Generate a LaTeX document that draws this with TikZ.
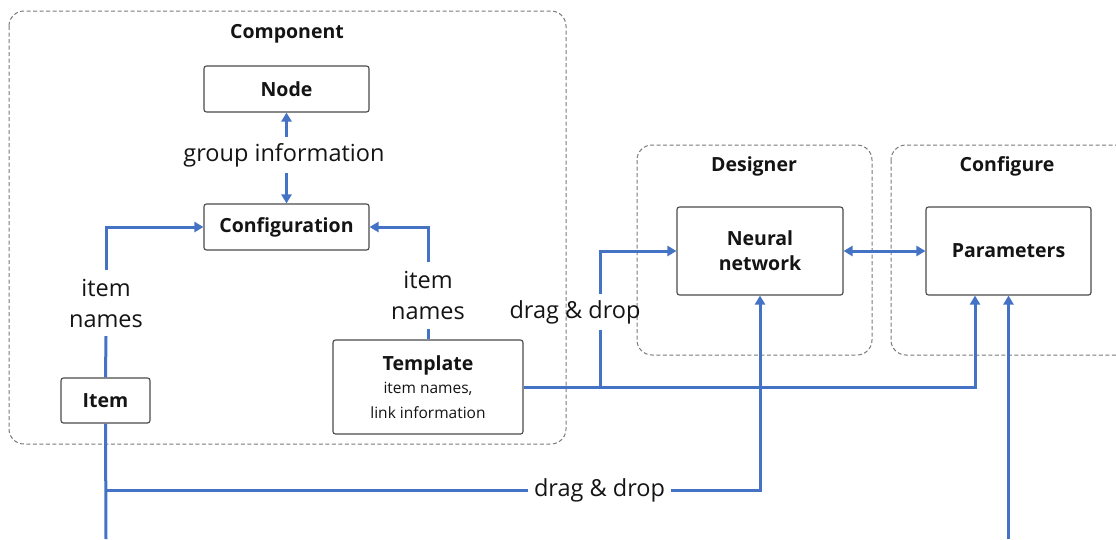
\documentclass[tikz,border=0pt]{standalone}
\usepackage{fontspec}
\setmainfont{Open Sans}
\usetikzlibrary{arrows.meta}
\definecolor{flowblue}{HTML}{4472C4}
\definecolor{boxgray}{HTML}{4A4A4A}
\definecolor{dashgray}{HTML}{7A7A7A}
\definecolor{ink}{HTML}{141414}
\newcommand{\subtxt}{\mdseries\fontsize{15.5}{22}\selectfont}
\begin{document}
\begin{tikzpicture}[x=1pt,y=-1pt,
  box/.style={draw=boxgray, line width=1.1pt, rounded corners=2.5pt, fill=white,
    inner sep=0pt, text=ink, align=center, font=\bfseries\fontsize{19.5}{25}\selectfont},
  group/.style={draw=dashgray, line width=1pt, dash pattern=on 4pt off 2.5pt, rounded corners=15pt},
  grouptitle/.style={text=ink, font=\bfseries\fontsize{19.5}{24}\selectfont},
  lbl/.style={text=ink, inner sep=0pt, align=center, font=\fontsize{23.5}{31}\selectfont},
  flow/.style={draw=flowblue, line width=3pt},
  arr/.style={flow, -{Triangle[length=9pt,width=10pt]}},
  biarr/.style={flow, {Triangle[length=9pt,width=10pt]}-{Triangle[length=9pt,width=10pt]}}]

\clip (0,0) rectangle (1116,539);

% ---------- group frames ----------
\draw[group] (9,11) rectangle (566,444);
\node[grouptitle] (comptitle) at (287,34) {Component};
\draw[group] (637,145) rectangle (872,355);
\node[grouptitle] (destitle) at (754,166) {Designer};
\draw[group] (891,145) rectangle (1160,355);
\node[grouptitle] (conftitle) at (1007,166) {Configure};

% ---------- boxes ----------
\node[box, minimum width=165pt, minimum height=46pt] (node) at (286.5,89) {Node};
\node[box, minimum width=165pt, minimum height=46pt] (config) at (286.5,227) {Configuration};
\node[box, minimum width=89pt, minimum height=45pt] (item) at (105.5,400.5) {Item};
\node[box, minimum width=190pt, minimum height=94pt] (tmpl) at (428,387)
  {Template\\[-2pt]\subtxt item names,\\\subtxt link information};
\node[box, minimum width=166pt, minimum height=88pt] (nn) at (760,251) {Neural\\network};
\node[box, minimum width=165pt, minimum height=88pt] (params) at (1008.5,251) {Parameters};

% ---------- connector labels ----------
\node[lbl, minimum height=36pt] (gi) at (284,155) {group information};
\node[lbl, minimum height=66pt] (inl) at (106,303) {item\\names};
\node[lbl, minimum height=67pt] (inr) at (428,295.5) {item\\names};
\node[lbl, minimum height=35pt] (ddtop) at (575,312) {drag \& drop};
\node[lbl, inner xsep=6pt, minimum height=30pt] (ddbot) at (599.5,490.5) {drag \& drop};

% ---------- connectors ----------
\draw[arr] (node.south |- gi.north) -- (node.south);
\draw[arr] (config.north |- gi.south) -- (config.north);

\draw[flow] (item.north) -- (inl.south);
\draw[arr] (inl.north) |- (config.west);

\draw[flow] (tmpl.north) -- (inr.south);
\draw[arr] (inr.north) |- (config.east);

\draw[arr] (tmpl.east) -| ([xshift=-33.5pt]params.south);
\coordinate (tsplit) at (600,387);
\draw[flow] (tsplit) -- (tsplit |- ddtop.south);
\draw[arr] (tsplit |- ddtop.north) |- (nn.west);

\coordinate (itemend) at (106,539);
\coordinate (isplit) at (item.south |- ddbot.west);
\draw[flow] (item.south) -- (itemend);
\draw[flow] (isplit) -- (ddbot.west);
\draw[arr] (ddbot.east) -| (nn.south);

\draw[biarr] (nn.east) -- (params.west);

\coordinate (paramsend) at (1008.5,539);
\draw[arr] (paramsend) -- (params.south);
\end{tikzpicture}
\end{document}
